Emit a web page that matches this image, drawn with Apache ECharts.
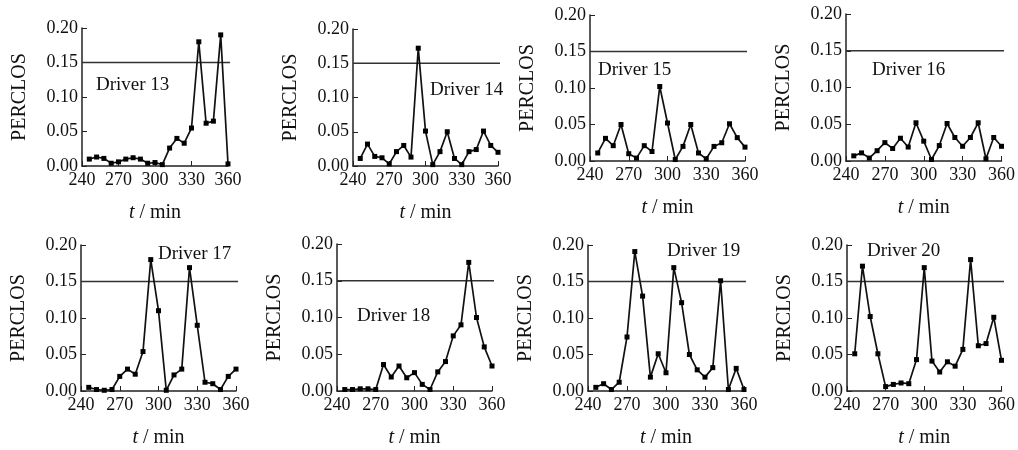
<!DOCTYPE html>
<html>
<head>
<meta charset="utf-8">
<title>PERCLOS</title>
<script src="https://cdn.jsdelivr.net/npm/echarts@6/dist/echarts.min.js"></script>
<style>
	html, body { margin: 0; background: #fff; }
	#chart { width: 1018px; height: 450px; }
</style>
</head>
<body>
<div id="chart"></div>
<script>
	//采样时刻 (min)
	var times = [246, 252, 258, 264, 270, 276, 282, 288, 294, 300, 306, 312, 318, 324, 330, 336, 342, 348, 354, 360];

	//各司机 PERCLOS
	var driver13 = [0.010, 0.013, 0.011, 0.004, 0.006, 0.010, 0.012, 0.010, 0.004, 0.005, 0.002, 0.026, 0.040, 0.033, 0.055, 0.180, 0.062, 0.065, 0.190, 0.003];
	var driver14 = [0.011, 0.032, 0.014, 0.012, 0.003, 0.021, 0.030, 0.013, 0.172, 0.051, 0.002, 0.021, 0.050, 0.011, 0.002, 0.021, 0.024, 0.051, 0.030, 0.020];
	var driver15 = [0.011, 0.031, 0.021, 0.050, 0.010, 0.004, 0.021, 0.013, 0.102, 0.052, 0.002, 0.020, 0.050, 0.011, 0.003, 0.020, 0.025, 0.051, 0.032, 0.019];
	var driver16 = [0.007, 0.011, 0.004, 0.014, 0.025, 0.017, 0.031, 0.019, 0.052, 0.027, 0.002, 0.021, 0.051, 0.032, 0.020, 0.032, 0.052, 0.003, 0.032, 0.020];
	var driver17 = [0.005, 0.002, 0.001, 0.002, 0.020, 0.030, 0.023, 0.054, 0.180, 0.110, 0.001, 0.022, 0.030, 0.169, 0.090, 0.012, 0.010, 0.002, 0.020, 0.030];
	var driver18 = [0.002, 0.002, 0.003, 0.003, 0.002, 0.036, 0.019, 0.034, 0.018, 0.025, 0.009, 0.002, 0.026, 0.040, 0.075, 0.090, 0.175, 0.100, 0.060, 0.034];
	var driver19 = [0.005, 0.010, 0.002, 0.012, 0.074, 0.191, 0.130, 0.019, 0.051, 0.025, 0.169, 0.121, 0.050, 0.029, 0.019, 0.032, 0.151, 0.002, 0.031, 0.002];
	var driver20 = [0.051, 0.171, 0.102, 0.051, 0.006, 0.009, 0.011, 0.010, 0.043, 0.169, 0.041, 0.026, 0.040, 0.034, 0.057, 0.180, 0.062, 0.065, 0.101, 0.042];

	var names = ['Driver 13', 'Driver 14', 'Driver 15', 'Driver 16', 'Driver 17', 'Driver 18', 'Driver 19', 'Driver 20'];
	var seriesValues = [driver13, driver14, driver15, driver16, driver17, driver18, driver19, driver20];

	//坐标轴刻度
	var xTicks = [240, 270, 300, 330, 360];
	var yTicks = [0, 0.05, 0.10, 0.15, 0.20];

	//阈值线
	var threshold = 0.15;
	var thresholdSpan = [240, 365];

	//各子图位置 (px)：grid 与文字标注
	var layouts = [
		{ grid: [82, 28, 146, 138], label: [96, 76] },
		{ grid: [353, 29, 145, 137], label: [430, 81] },
		{ grid: [590, 15, 155, 146], label: [598, 61] },
		{ grid: [846, 14, 156, 147], label: [872, 61] },
		{ grid: [81, 245, 155, 146], label: [158, 245] },
		{ grid: [337, 244, 155, 147], label: [357, 307] },
		{ grid: [588, 245, 156, 146], label: [667, 242] },
		{ grid: [847, 245, 155, 146], label: [867, 242] }
	];

	var font = '"Liberation Serif", "Times New Roman", serif';
	var ink = '#111';

	var option = {
		backgroundColor: '#fff',
		animation: false,
		textStyle: { fontFamily: font },
		title: [],
		grid: [],
		xAxis: [],
		yAxis: [],
		series: []
	};

	layouts.forEach(function (l, i) {
		option.grid.push({
			left: l.grid[0],
			top: l.grid[1],
			width: l.grid[2],
			height: l.grid[3]
		});

		option.title.push({
			text: names[i],
			left: l.label[0],
			top: l.label[1],
			padding: 0,
			textStyle: { fontFamily: font, fontSize: 19, fontWeight: 'normal', color: ink }
		});

		option.xAxis.push({
			type: 'value',
			gridIndex: i,
			min: xTicks[0],
			max: xTicks[xTicks.length - 1],
			interval: 30,
			name: '{i|t} / min',
			nameLocation: 'middle',
			nameGap: 37,
			nameTextStyle: {
				fontFamily: font,
				fontSize: 20,
				color: ink,
				rich: { i: { fontFamily: font, fontSize: 20, fontStyle: 'italic', color: ink } }
			},
			axisLine: { lineStyle: { color: '#222', width: 1.5 } },
			axisTick: { inside: true, length: 5, lineStyle: { color: '#222' } },
			axisLabel: { fontFamily: font, fontSize: 18, color: ink, margin: 5 },
			splitLine: { show: false }
		});

		option.yAxis.push({
			type: 'value',
			gridIndex: i,
			min: yTicks[0],
			max: yTicks[yTicks.length - 1],
			interval: 0.05,
			name: 'PERCLOS',
			nameLocation: 'middle',
			nameGap: 52,
			nameTextStyle: { fontFamily: font, fontSize: 20, color: ink },
			axisLine: { show: true, lineStyle: { color: '#222', width: 1.5 } },
			axisTick: { show: true, inside: true, length: 5, lineStyle: { color: '#222' } },
			axisLabel: {
				fontFamily: font,
				fontSize: 18,
				color: ink,
				margin: 4,
				formatter: function (v) { return v.toFixed(2); }
			},
			splitLine: { show: false }
		});

		//阈值
		option.series.push({
			type: 'line',
			xAxisIndex: i,
			yAxisIndex: i,
			clip: false,
			symbol: 'none',
			silent: true,
			lineStyle: { color: '#333', width: 1.6 },
			data: [[thresholdSpan[0], threshold], [thresholdSpan[1], threshold]]
		});

		option.series.push({
			type: 'line',
			xAxisIndex: i,
			yAxisIndex: i,
			symbol: 'rect',
			symbolSize: 5,
			itemStyle: { color: '#000' },
			lineStyle: { color: ink, width: 1.7 },
			data: times.map(function (t, k) { return [t, seriesValues[i][k]]; })
		});
	});

	var chart = echarts.init(document.getElementById('chart'));
	chart.setOption(option);
</script>
</body>
</html>
